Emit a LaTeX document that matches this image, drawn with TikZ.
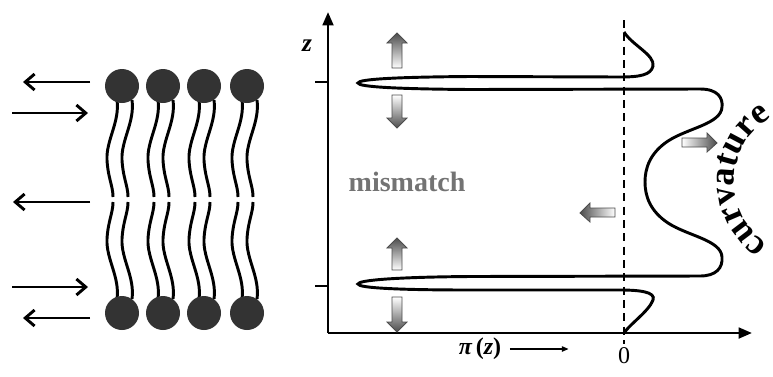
\documentclass[tikz,border=0pt]{standalone}
\usepackage{fontspec}
\setmainfont{Liberation Serif}
\usetikzlibrary{arrows.meta,decorations.text}

\newcommand\curvfont{\fontsize{27}{30}\selectfont\bfseries}

\begin{document}
\begin{tikzpicture}[x=0.75pt, y=-0.75pt,
		head/.style={fill=black!80},
		tail/.style={line width=2.2pt},
		force/.style={line width=2.2pt, -{Straight Barb[length=7pt,width=12pt]}},
		axis/.style={line width=2pt, -{Triangle[length=10pt,width=8pt]}},
		profile/.style={line width=2.2pt},
		blockarrow/.style={draw=black!70, line width=0.6pt},
		lbl/.style={font=\fontsize{18}{20}\selectfont},
		tailwave/.pic={\draw[tail] (0,0) .. controls (3,22) and (-11,40) .. (-10,60) .. controls (-9,78) and (-4,86) .. (-4,97);}]
		\useasboundingbox (0,0) rectangle (773,376);
		% forces on the leaflet
		\draw[force] (90,82) -- (23,82);
		\draw[force] (12,113) -- (88,113);
		\draw[force] (90,202) -- (13,202);
		\draw[force] (12,287) -- (88,287);
		\draw[force] (90,318) -- (23,318);
		% lipid tails
		\pic at (117,100) {tailwave};
		\pic at (132,100) {tailwave};
		\pic at (158,100) {tailwave};
		\pic at (173,100) {tailwave};
		\pic at (199,100) {tailwave};
		\pic at (214,100) {tailwave};
		\pic at (242,100) {tailwave};
		\pic at (257,100) {tailwave};
		\pic[yscale=-1] at (117,299) {tailwave};
		\pic[yscale=-1] at (132,299) {tailwave};
		\pic[yscale=-1] at (158,299) {tailwave};
		\pic[yscale=-1] at (173,299) {tailwave};
		\pic[yscale=-1] at (199,299) {tailwave};
		\pic[yscale=-1] at (214,299) {tailwave};
		\pic[yscale=-1] at (242,299) {tailwave};
		\pic[yscale=-1] at (257,299) {tailwave};
		% head groups
		\fill[head] (122,86) circle (17);
		\fill[head] (163,86) circle (17);
		\fill[head] (204,86) circle (17);
		\fill[head] (247,86) circle (17);
		\fill[head] (122,313) circle (17);
		\fill[head] (163,313) circle (17);
		\fill[head] (204,313) circle (17);
		\fill[head] (247,313) circle (17);
		% axes
		\coordinate (O) at (328,333);
		\coordinate (ztop) at (328,12);
		\coordinate (xend) at (752,333);
		\draw[axis] (O) -- (ztop);
		\draw[axis] (O) -- (xend);
		\draw[line width=2pt] (315,82) -- (328,82);
		\draw[line width=2pt] (315,286) -- (328,286);
		\draw[line width=1.4pt, dash pattern=on 6pt off 4pt] (624,20) -- (624,344);
		% lateral pressure profile
		\draw[profile] (624,32) .. controls (632,45) and (655,55) .. (653,66)
			.. controls (651,75) and (640,77) .. (620,77) -- (470,76.5)
			.. controls (400,77) and (358,79) .. (358,83)
			.. controls (358,87) and (400,89) .. (470,89.5) -- (700,89)
			.. controls (718,89) and (723,98) .. (722,107)
			.. controls (721,124) and (688,128) .. (668,141)
			.. controls (650,153) and (645,168) .. (645,182)
			.. controls (645,196) and (650,211) .. (668,223)
			.. controls (688,236) and (721,240) .. (722,257)
			.. controls (723,268) and (716,276) .. (700,276) -- (470,276.5)
			.. controls (400,277) and (358,280) .. (358,284)
			.. controls (358,288) and (400,290) .. (470,290) -- (620,290)
			.. controls (640,290) and (656,292) .. (653,300)
			.. controls (649,311) and (630,324) .. (624,333);
		% shaded block arrows
		\shadedraw[blockarrow, top color=black!70, bottom color=white] (397,33) -- ++(10,10) -- ++(-5,0) -- ++(0,25) -- ++(-10,0) -- ++(0,-25) -- ++(-5,0) -- cycle;
		\shadedraw[blockarrow, top color=white, bottom color=black!70] (397,128) -- ++(10,-10) -- ++(-5,0) -- ++(0,-23) -- ++(-10,0) -- ++(0,23) -- ++(-5,0) -- cycle;
		\shadedraw[blockarrow, top color=black!70, bottom color=white] (397,238) -- ++(10,10) -- ++(-5,0) -- ++(0,22) -- ++(-10,0) -- ++(0,-22) -- ++(-5,0) -- cycle;
		\shadedraw[blockarrow, top color=white, bottom color=black!70] (397,332) -- ++(10,-10) -- ++(-5,0) -- ++(0,-25) -- ++(-10,0) -- ++(0,25) -- ++(-5,0) -- cycle;
		\shadedraw[blockarrow, left color=white, right color=black!70] (717,143) -- ++(-10,-10) -- ++(0,5) -- ++(-25,0) -- ++(0,9) -- ++(25,0) -- ++(0,5) -- cycle;
		\shadedraw[blockarrow, left color=black!70, right color=white] (580,213) -- ++(10,-10) -- ++(0,5) -- ++(25,0) -- ++(0,9) -- ++(-25,0) -- ++(0,5) -- cycle;
		% labels
		\node[lbl, font=\fontsize{19}{21}\selectfont\bfseries\itshape] (zlab) at (307,46) {z};
		\node[font=\fontsize{21}{24}\selectfont\bfseries, text=black!55] (mism) at (407,182) {mismatch};
		\node[lbl, font=\fontsize{18}{20}\selectfont\bfseries] (pilab) at (480,349) {\itshape π\,\upshape(\itshape z\upshape)};
		\coordinate (pitip) at ([xshift=47pt]pilab.east);
		\draw[line width=0.9pt, -{Triangle[length=5pt,width=4pt]}] ([xshift=3pt]pilab.east) -- (pitip);
		\node[lbl] (zero) at (624,356) {0};
		\path[decorate, decoration={text along path, text align=center, text={|\curvfont|curvature}}]
			(782.7,251.5) arc[start angle=110, end angle=253, radius=74];
	\end{tikzpicture}
\end{document}
